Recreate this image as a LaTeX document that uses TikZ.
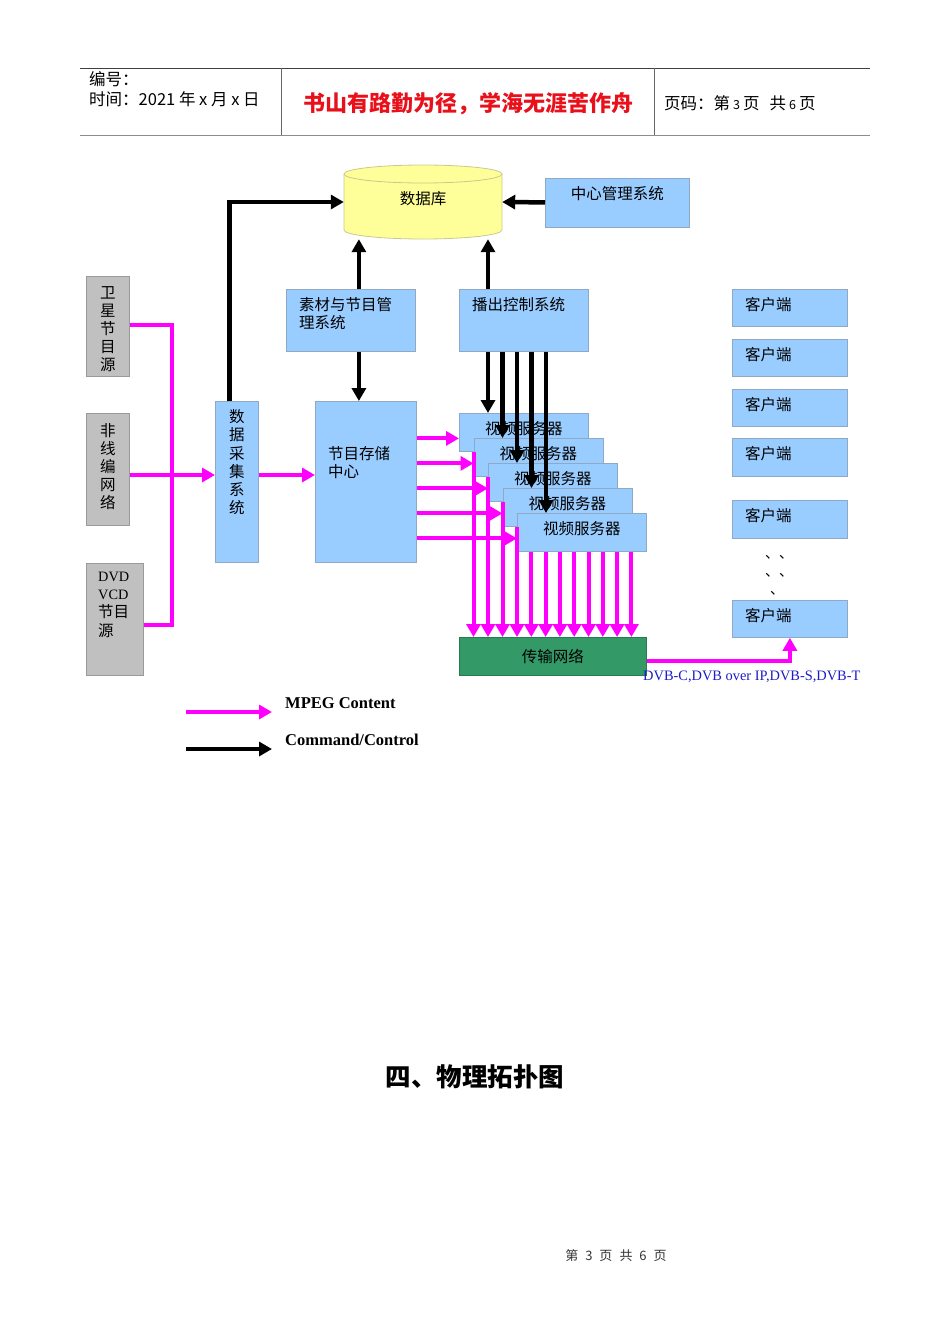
\documentclass[tikz,border=0pt]{standalone}
\usepackage{fontspec}
\setmainfont{Liberation Serif}
\newfontfamily\cjk{Noto Sans CJK SC}
\usetikzlibrary{arrows.meta}

\definecolor{kuanglan}{HTML}{99CCFF}
\definecolor{kuangbian}{HTML}{8FA9C5}
\definecolor{yuanhui}{HTML}{C0C0C0}
\definecolor{yuanbian}{HTML}{9A9A9A}
\definecolor{kuhuang}{HTML}{FFFF99}
\definecolor{kubian}{HTML}{C9C98F}
\definecolor{wanglv}{HTML}{339966}
\definecolor{fenhong}{HTML}{FF00FF}
\definecolor{dvblan}{HTML}{1C1CC8}
\definecolor{biaohong}{HTML}{E8101A}

\tikzset{
  kuang/.style={draw=kuangbian, fill=kuanglan, line width=0.8pt, inner sep=0pt, anchor=north west},
  yuan/.style={draw=yuanbian, fill=yuanhui, line width=0.8pt, inner sep=0pt, anchor=north west},
  wenzi/.style={anchor=north west, inner sep=0pt, align=left},
  shuxie/.style={anchor=north, inner sep=0pt, align=center},
  yemei/.style={anchor=west, inner sep=0pt, font=\cjk\fontsize{16.5}{19}\selectfont},
  mpegxian/.style={draw=fenhong, line width=4pt},
  mpeg/.style={mpegxian, ->},
  kongzhi/.style={draw=black, line width=4.5pt, ->}
}

\begin{document}
\begin{tikzpicture}[x=1pt, y=-1pt, >={Triangle[length=13pt,width=14pt]},
    font=\cjk\fontsize{15.5}{18.2}\selectfont]
		\useasboundingbox (0,0) rectangle (950,1344);
		%\draw [help lines, step=50] (0,0) grid (950,1344);
		% Header
		\draw [line width=1pt, black!75] (80,68) -- (870,68);
		\draw [line width=1.6pt, black!45] (80,135.5) -- (870,135.5);
		\draw [line width=1pt, black!60] (281,68) -- (281,135) (654,68) -- (654,135);
		\node (bianhao) [yemei] at (89,79) {编号：};
		\node (shijian) [yemei] at (89,99) {时间：2021 年 x 月 x 日};
		\node (geyan) [text=biaohong, font=\cjk\bfseries\fontsize{22}{24}\selectfont] at (468,104) {书山有路勤为径，学海无涯苦作舟};
		\node (yema) [yemei] at (664,103) {页码：第\hspace{3pt}{\fontsize{12.5}{14}\selectfont 3}\hspace{3pt}页\hspace{10pt}共\hspace{3pt}{\fontsize{12.5}{14}\selectfont 6}\hspace{3pt}页};

		% Database
		\filldraw [fill=kuhuang, draw=kubian, line width=0.8pt] (344,174) -- (344,230) arc [start angle=180, end angle=360, x radius=79pt, y radius=9pt] -- (502,174);
		\filldraw [fill=kuhuang, draw=kubian, line width=0.8pt] (423,174) ellipse [x radius=79pt, y radius=9pt];
		\node (db) [minimum width=158pt, minimum height=74pt, inner sep=0pt,
		  label={[inner sep=0pt, yshift=3pt]center:数据库}] at (423,202) {};

		% Management systems
		\node (guanli) [kuang, minimum width=144pt, minimum height=49pt,
		  label={[shuxie, yshift=-8.5pt]north:中心管理系统}] at (545,177.5) {};
		\node (sucai) [kuang, minimum width=129pt, minimum height=62pt,
		  label={[wenzi, xshift=13pt, yshift=-8.5pt]north west:素材与节目管\\理系统}] at (286,289) {};
		\node (bochu) [kuang, minimum width=129pt, minimum height=62pt,
		  label={[wenzi, xshift=13pt, yshift=-8.5pt]north west:播出控制系统}] at (459,289) {};
		\node (cunchu) [kuang, minimum width=101pt, minimum height=161pt,
		  label={[wenzi, xshift=13pt, yshift=-45.5pt]north west:节目存储\\中心}] at (315,401) {};
		\node (caiji) [kuang, minimum width=43pt, minimum height=161pt,
		  label={[shuxie, yshift=-8.5pt]north:数\\据\\采\\集\\系\\统}] at (215,401) {};

		% Sources
		\node (weixing) [yuan, minimum width=43pt, minimum height=100pt,
		  label={[shuxie, yshift=-10pt]north:卫\\星\\节\\目\\源}] at (86,276) {};
		\node (feixian) [yuan, minimum width=43pt, minimum height=112pt,
		  label={[shuxie, yshift=-10pt]north:非\\线\\编\\网\\络}] at (86,413) {};
		\node (dvd) [yuan, minimum width=57pt, minimum height=112pt,
		  label={[wenzi, xshift=12pt, yshift=-9pt]north west:{\rmfamily\fontsize{14.3}{17}\selectfont DVD}\\{\rmfamily\fontsize{14.3}{17}\selectfont VCD}\\节目\\源}] at (86,563) {};

		% Video servers
		\node (fuwu1) [kuang, minimum width=129pt, minimum height=38pt,
		  label={[shuxie, yshift=-8.5pt]north:视频服务器}] at (459,413) {};
		\node (fuwu2) [kuang, minimum width=129pt, minimum height=38pt,
		  label={[shuxie, yshift=-8.5pt]north:视频服务器}] at (473.5,438) {};
		\node (fuwu3) [kuang, minimum width=129pt, minimum height=38pt,
		  label={[shuxie, yshift=-8.5pt]north:视频服务器}] at (488,463) {};
		\node (fuwu4) [kuang, minimum width=129pt, minimum height=38pt,
		  label={[shuxie, yshift=-8.5pt]north:视频服务器}] at (502.5,488) {};
		\node (fuwu5) [kuang, minimum width=129pt, minimum height=38pt,
		  label={[shuxie, yshift=-8.5pt]north:视频服务器}] at (517,513) {};

		% Network
		\node (wangluo) [kuang, fill=wanglv, draw=wanglv!80!black, minimum width=187pt, minimum height=38pt] at (459,637) {传输网络};

		% Clients
		\node (kehu1) [kuang, minimum width=115pt, minimum height=37pt,
		  label={[wenzi, xshift=13pt, yshift=-8.5pt]north west:客户端}] at (732,289) {};
		\node (kehu2) [kuang, minimum width=115pt, minimum height=37pt,
		  label={[wenzi, xshift=13pt, yshift=-8.5pt]north west:客户端}] at (732,339) {};
		\node (kehu3) [kuang, minimum width=115pt, minimum height=37pt,
		  label={[wenzi, xshift=13pt, yshift=-8.5pt]north west:客户端}] at (732,389) {};
		\node (kehu4) [kuang, minimum width=115pt, minimum height=38pt,
		  label={[wenzi, xshift=13pt, yshift=-8.5pt]north west:客户端}] at (732,438) {};
		\node (kehu5) [kuang, minimum width=115pt, minimum height=38pt,
		  label={[wenzi, xshift=13pt, yshift=-8.5pt]north west:客户端}] at (732,500) {};
		\node (kehu6) [kuang, minimum width=115pt, minimum height=37pt,
		  label={[wenzi, xshift=13pt, yshift=-8.5pt]north west:客户端}] at (732,600) {};
		\node (dian1) [inner sep=0pt, font=\cjk\fontsize{14}{16}\selectfont] at (779,557) {、、};
		\node (dian2) [inner sep=0pt, font=\cjk\fontsize{14}{16}\selectfont] at (779,575) {、、};
		\node (dian3) [inner sep=0pt, font=\cjk\fontsize{14}{16}\selectfont] at (777,593) {、};
		\node (dvb) [anchor=west, inner sep=0pt, text=dvblan, font=\rmfamily\fontsize{14.4}{16}\selectfont] at (643,677) {DVB-C,DVB over IP,DVB-S,DVB-T};

		% Control
		\draw [kongzhi] (guanli.west) -- (db.east);
		\draw [kongzhi] ([xshift=-7.5pt]caiji.north) |- (db.west);
		\draw [kongzhi] ([xshift=8pt]sucai.north) -- ([xshift=8pt]sucai.north |- db.south);
		\draw [kongzhi] (bochu.north -| fuwu3.west) -- (db.south -| fuwu3.west);
		\draw [kongzhi] ([xshift=8pt]sucai.south) -- ([xshift=8pt]sucai.south |- cunchu.north);
		\draw [kongzhi] (bochu.south -| fuwu3.west) -- (fuwu1.north -| fuwu3.west);
		\draw [kongzhi] (bochu.south -| fuwu4.west) -- (fuwu2.north -| fuwu4.west);
		\draw [kongzhi] (bochu.south -| fuwu5.west) -- (fuwu3.north -| fuwu5.west);
		\draw [kongzhi] ([xshift=14.5pt]bochu.south -| fuwu5.west) -- ([xshift=14.5pt]fuwu4.north -| fuwu5.west);
		\draw [kongzhi] ([xshift=29pt]bochu.south -| fuwu5.west) -- ([xshift=29pt]fuwu5.north -| fuwu5.west);

		% MPEG
		\coordinate (huiju) at (172,475);
		\draw [mpegxian] ([yshift=1pt]weixing.east) -| (huiju) |- ([yshift=-6pt]dvd.east);
		\draw [mpeg] (feixian.east |- huiju) -- (caiji.west |- huiju);
		\draw [mpeg] (caiji.east |- huiju) -- (cunchu.west |- huiju);
		\draw [mpeg] ([yshift=-6pt]fuwu1.west -| cunchu.east) -- ([yshift=-6pt]fuwu1.west);
		\draw [mpeg] ([yshift=-6pt]fuwu2.west -| cunchu.east) -- ([yshift=-6pt]fuwu2.west);
		\draw [mpeg] ([yshift=-6pt]fuwu3.west -| cunchu.east) -- ([yshift=-6pt]fuwu3.west);
		\draw [mpeg] ([yshift=-6pt]fuwu4.west -| cunchu.east) -- ([yshift=-6pt]fuwu4.west);
		\draw [mpeg] ([yshift=-6pt]fuwu5.west -| cunchu.east) -- ([yshift=-6pt]fuwu5.west);
		\draw [mpeg] (fuwu1.south -| fuwu2.west) -- (wangluo.north -| fuwu2.west);
		\draw [mpeg] (fuwu2.south -| fuwu3.west) -- (wangluo.north -| fuwu3.west);
		\draw [mpeg] (fuwu3.south -| fuwu4.west) -- (wangluo.north -| fuwu4.west);
		\draw [mpeg] (fuwu4.south -| fuwu5.west) -- (wangluo.north -| fuwu5.west);
		\draw [mpeg] ([xshift=14.3pt]fuwu5.south west) -- ([xshift=14.3pt]wangluo.north -| fuwu5.west);
		\draw [mpeg] ([xshift=28.6pt]fuwu5.south west) -- ([xshift=28.6pt]wangluo.north -| fuwu5.west);
		\draw [mpeg] ([xshift=42.9pt]fuwu5.south west) -- ([xshift=42.9pt]wangluo.north -| fuwu5.west);
		\draw [mpeg] ([xshift=57.2pt]fuwu5.south west) -- ([xshift=57.2pt]wangluo.north -| fuwu5.west);
		\draw [mpeg] ([xshift=71.5pt]fuwu5.south west) -- ([xshift=71.5pt]wangluo.north -| fuwu5.west);
		\draw [mpeg] ([xshift=85.8pt]fuwu5.south west) -- ([xshift=85.8pt]wangluo.north -| fuwu5.west);
		\draw [mpeg] ([xshift=100.1pt]fuwu5.south west) -- ([xshift=100.1pt]wangluo.north -| fuwu5.west);
		\draw [mpeg] ([xshift=114.4pt]fuwu5.south west) -- ([xshift=114.4pt]wangluo.north -| fuwu5.west);
		\draw [mpeg] ([yshift=-5pt]wangluo.east) -| (kehu6.south);

		% Legend
		\coordinate (tuli1) at (186,712);
		\coordinate (tuli1e) at (272,712);
		\coordinate (tuli2) at (186,749);
		\coordinate (tuli2e) at (272,749);
		\draw [mpeg] (tuli1) -- (tuli1e);
		\draw [kongzhi] (tuli2) -- (tuli2e);
		\node (mpegwz) [anchor=west, inner sep=0pt, font=\rmfamily\bfseries\fontsize{16.5}{18}\selectfont] at (285,703) {MPEG Content};
		\node (kongzhiwz) [anchor=west, inner sep=0pt, font=\rmfamily\bfseries\fontsize{16.5}{18}\selectfont] at (285,740) {Command/Control};

		% Title and footer
		\node (biaoti) [font=\cjk\bfseries\fontsize{25.5}{28}\selectfont] at (475,1077) {四、物理拓扑图};
		\node (yejiao) [text=black!80, font=\cjk\fontsize{13}{15}\selectfont] at (616,1256) {第\hspace{7pt}3\hspace{7pt}页\hspace{7pt}共\hspace{7pt}6\hspace{7pt}页};
	\end{tikzpicture}
\end{document}
